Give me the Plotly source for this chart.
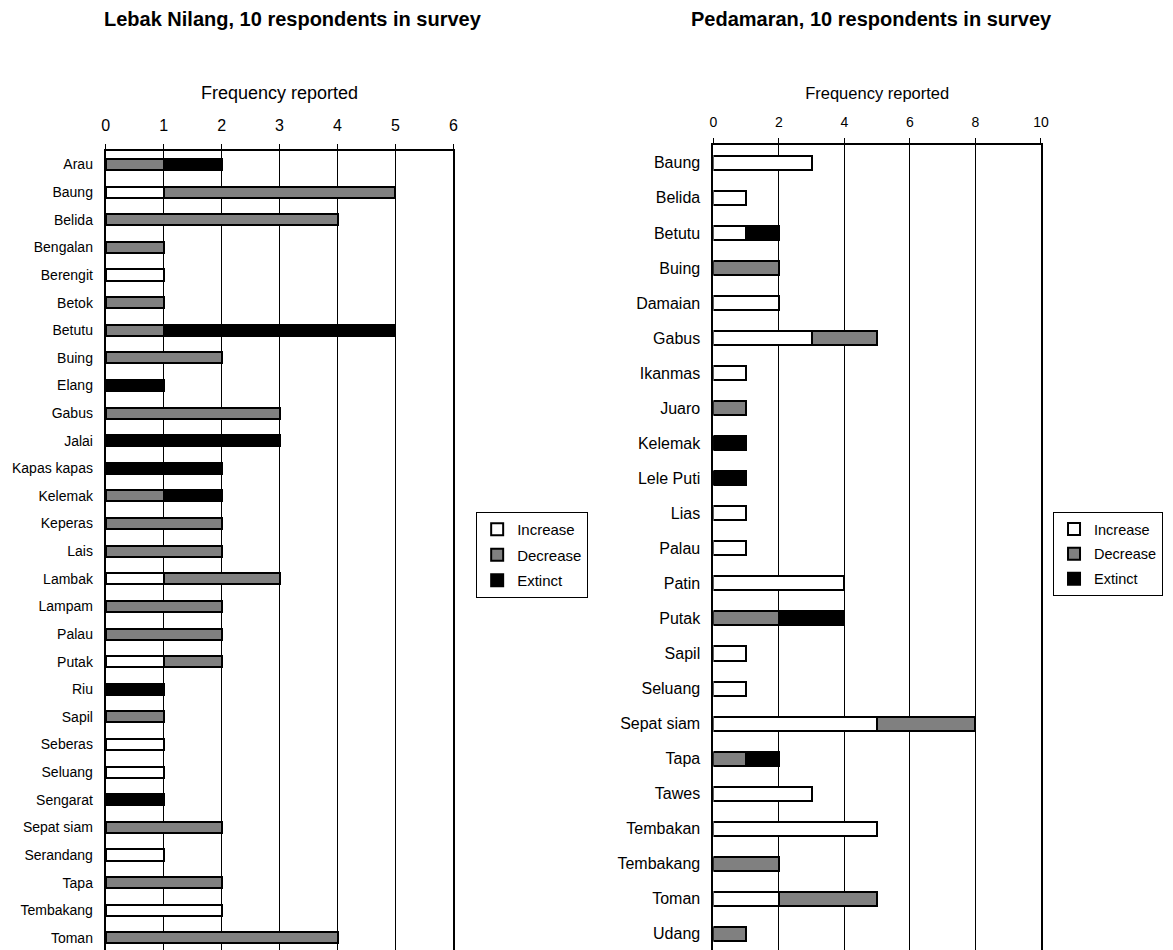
import plotly.graph_objects as go

# ---------------- data ----------------
left_species = ["Arau", "Baung", "Belida", "Bengalan", "Berengit", "Betok", "Betutu", "Buing",
                "Elang", "Gabus", "Jalai", "Kapas kapas", "Kelemak", "Keperas", "Lais", "Lambak",
                "Lampam", "Palau", "Putak", "Riu", "Sapil", "Seberas", "Seluang", "Sengarat",
                "Sepat siam", "Serandang", "Tapa", "Tembakang", "Toman"]
left_increase = [0, 1, 0, 0, 1, 0, 0, 0, 0, 0, 0, 0, 0, 0, 0, 1, 0, 0, 1, 0, 0, 1, 1, 0, 0, 1, 0, 2, 0]
left_decrease = [1, 4, 4, 1, 0, 1, 1, 2, 0, 3, 0, 0, 1, 2, 2, 2, 2, 2, 1, 0, 1, 0, 0, 0, 2, 0, 2, 0, 4]
left_extinct = [1, 0, 0, 0, 0, 0, 4, 0, 1, 0, 3, 2, 1, 0, 0, 0, 0, 0, 0, 1, 0, 0, 0, 1, 0, 0, 0, 0, 0]

right_species = ["Baung", "Belida", "Betutu", "Buing", "Damaian", "Gabus", "Ikanmas", "Juaro",
                 "Kelemak", "Lele Puti", "Lias", "Palau", "Patin", "Putak", "Sapil", "Seluang",
                 "Sepat siam", "Tapa", "Tawes", "Tembakan", "Tembakang", "Toman", "Udang"]
right_increase = [3, 1, 1, 0, 2, 3, 1, 0, 0, 0, 1, 1, 4, 0, 1, 1, 5, 0, 3, 5, 0, 2, 0]
right_decrease = [0, 0, 0, 2, 0, 2, 0, 1, 0, 0, 0, 0, 0, 2, 0, 0, 3, 1, 0, 0, 2, 3, 1]
right_extinct = [0, 0, 1, 0, 0, 0, 0, 0, 1, 1, 0, 0, 0, 2, 0, 0, 0, 1, 0, 0, 0, 0, 0]

series_names = ["Increase", "Decrease", "Extinct"]
series_colors = ["#ffffff", "#808080", "#000000"]

left_title = "Lebak Nilang, 10 respondents in survey"
right_title = "Pedamaran, 10 respondents in survey"
axis_title = "Frequency reported"

FONT = "Arial, 'Liberation Sans', sans-serif"

fig = go.Figure()

for name, color, vals in zip(series_names, series_colors,
                             [left_increase, left_decrease, left_extinct]):
    fig.add_trace(go.Bar(
        y=left_species, x=vals, orientation="h", name=name,
        marker=dict(color=color, line=dict(color="#000000", width=2)),
        xaxis="x", yaxis="y", legend="legend", legendgroup="L" + name,
    ))

for name, color, vals in zip(series_names, series_colors,
                             [right_increase, right_decrease, right_extinct]):
    fig.add_trace(go.Bar(
        y=right_species, x=vals, orientation="h", name=name,
        marker=dict(color=color, line=dict(color="#000000", width=2)),
        xaxis="x2", yaxis="y2", legend="legend2", legendgroup="R" + name,
    ))

# The page body has an 8px margin: figure is sized so it fills the window exactly.
OFF = 8
W, H = 1173 - OFF, 950 - OFF


def px_x(p):
    return (p - OFF) / W


def px_y(p):
    return 1 - (p - OFF) / H


common_x = dict(
    side="top", showline=True, linecolor="#000000", linewidth=2,
    ticks="outside", ticklen=5, tickcolor="#000000", tickwidth=1,
    showgrid=True, gridcolor="#000000", gridwidth=1, zeroline=False,
    fixedrange=True,
)
common_y = dict(
    type="category", showline=True, mirror=True, linecolor="#000000", linewidth=2,
    ticks="", showgrid=False, zeroline=False, fixedrange=True,
)

fig.update_layout(
    width=W, height=H,
    margin=dict(l=0, r=0, t=0, b=0),
    paper_bgcolor="#ffffff", plot_bgcolor="#ffffff",
    barmode="stack", bargap=0.6,
    font=dict(family=FONT, color="#000000"),
    xaxis=dict(common_x, domain=[px_x(102.7), px_x(454)], range=[0, 6], dtick=1,
               anchor="y", tickfont=dict(family=FONT, size=16, color="#000000"),
               ticklabelstandoff=6,
               title=dict(text=axis_title, font=dict(family=FONT, size=18, color="#000000"),
                          standoff=13)),
    yaxis=dict(common_y, domain=[0, px_y(150.7)], range=[28.44, -0.5], anchor="x",
               tickfont=dict(family=FONT, size=14, color="#000000"), ticklabelstandoff=8),
    xaxis2=dict(common_x, domain=[px_x(716.7), px_x(1047.7)], range=[0, 10], dtick=2,
                anchor="y2", tickfont=dict(family=FONT, size=14, color="#000000"),
                ticklabelstandoff=6,
                title=dict(text=axis_title, font=dict(family=FONT, size=16.5, color="#000000"),
                           standoff=10)),
    yaxis2=dict(common_y, domain=[0, px_y(145.3)], range=[22.46, -0.5], anchor="x2",
                tickfont=dict(family=FONT, size=16, color="#000000"), ticklabelstandoff=8),
    legend=dict(x=px_x(477), y=px_y(512), xanchor="left", yanchor="top",
                bordercolor="#000000", borderwidth=1, bgcolor="#ffffff",
                font=dict(family=FONT, size=15, color="#000000"),
                tracegroupgap=3, itemclick=False, itemdoubleclick=False),
    legend2=dict(x=px_x(1171), y=px_y(512), xanchor="right", yanchor="top",
                 bordercolor="#000000", borderwidth=1, bgcolor="#ffffff",
                 font=dict(family=FONT, size=14.5, color="#000000"),
                 tracegroupgap=3, itemclick=False, itemdoubleclick=False),
    annotations=[
        dict(text="<b>" + left_title + "</b>", xref="paper", yref="paper",
             x=px_x(292), y=px_y(19), xanchor="center", yanchor="middle",
             showarrow=False, font=dict(family=FONT, size=20, color="#000000")),
        dict(text="<b>" + right_title + "</b>", xref="paper", yref="paper",
             x=px_x(876), y=px_y(19), xanchor="center", yanchor="middle",
             showarrow=False, font=dict(family=FONT, size=20, color="#000000")),
    ],
)

fig.write_html("out.html")
